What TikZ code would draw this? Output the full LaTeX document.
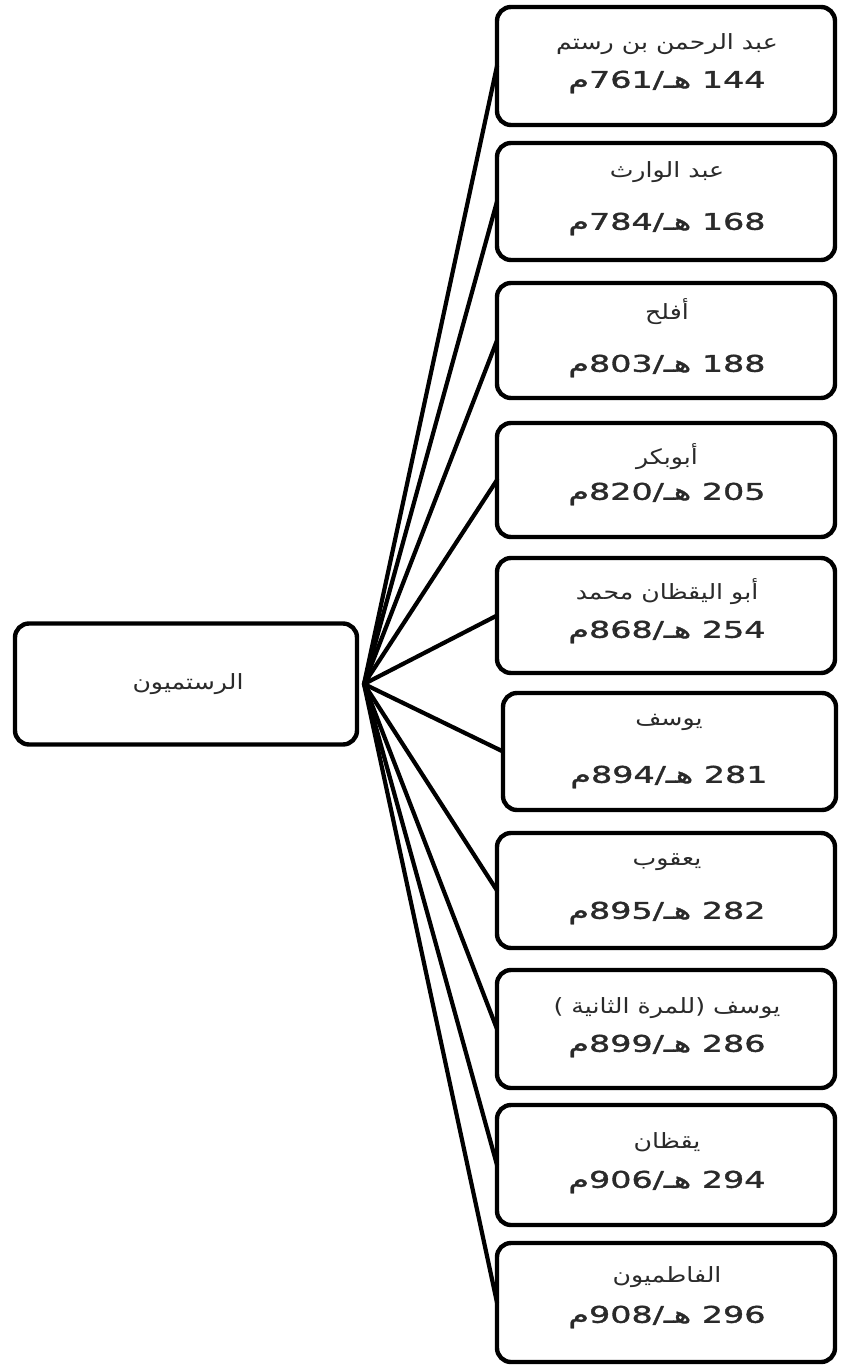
\documentclass[tikz,border=0pt]{standalone}
\usepackage{fontspec}
\setmainfont{DejaVu Sans}
\newfontfamily\arabicfont[Script=Arabic,FakeStretch=1.2]{DejaVu Sans}
\newfontfamily\numfont[Script=Arabic,FakeStretch=1.45,FakeBold=1.5]{DejaVu Sans}
\TeXXeTstate=1
\newcommand{\ar}[1]{{\arabicfont\beginR #1\endR}}
\newcommand{\dt}[2]{{\numfont\beginR\beginL#1\endL{} هـ/\beginL#2\endL{}م\endR}}
\definecolor{txtgray}{HTML}{2A2A2A}
\begin{document}
\begin{tikzpicture}[x=1pt,y=-1pt,
  box/.style={draw=black, line width=4.4pt, rounded corners=14pt, minimum width=338pt, inner sep=0pt, outer sep=0pt, anchor=north west},
  rootbox/.style={draw=black, line width=4.4pt, rounded corners=14pt, minimum width=342pt, minimum height=121pt, inner sep=0pt, outer sep=0pt},
  nm/.style={font=\fontsize{21}{23}\selectfont, text=txtgray, inner sep=0pt},
  num/.style={font=\fontsize{23}{25}\selectfont, text=txtgray, inner sep=0pt},
  conn/.style={draw=black, line width=4.2pt, line cap=round}]
\useasboundingbox (0,0) rectangle (840,1367);

\node[rootbox] (root) at (186,684) {};
\node[nm] (rootlbl) at (188,684) {\ar{الرستميون}};
\coordinate (hub) at (364,684);

% boxes
\node[box, minimum height=118pt] (b1) at (497,7) {};
\node[box, minimum height=117pt] (b2) at (497,143) {};
\node[box, minimum height=115pt] (b3) at (497,283) {};
\node[box, minimum height=114pt] (b4) at (497,423) {};
\node[box, minimum height=115pt] (b5) at (497,558) {};
\node[box, minimum height=117pt, minimum width=333pt] (b6) at (503,693) {};
\node[box, minimum height=115pt] (b7) at (497,833) {};
\node[box, minimum height=118pt] (b8) at (497,970) {};
\node[box, minimum height=120pt] (b9) at (497,1105) {};
\node[box, minimum height=119pt] (b10) at (497,1243) {};

\node[nm] (n1) at (667,44) {\ar{عبد الرحمن بن رستم}};
\node[num] (d1) at (667,82) {\dt{144}{761}};
\node[nm] (n2) at (667,172) {\ar{عبد الوارث}};
\node[num] (d2) at (667,224) {\dt{168}{784}};
\node[nm] (n3) at (667,312) {\ar{أفلح}};
\node[num] (d3) at (667,366) {\dt{188}{803}};
\node[nm] (n4) at (667,457) {\ar{أبوبكر}};
\node[num] (d4) at (667,494) {\dt{205}{820}};
\node[nm] (n5) at (667,592) {\ar{أبو اليقظان محمد}};
\node[num] (d5) at (667,632) {\dt{254}{868}};
\node[nm] (n6) at (669,722) {\ar{يوسف}};
\node[num] (d6) at (669,777) {\dt{281}{894}};
\node[nm] (n7) at (667,862) {\ar{يعقوب}};
\node[num] (d7) at (667,913) {\dt{282}{895}};
\node[nm] (n8) at (667,1008) {\ar{يوسف (للمرة الثانية )}};
\node[num] (d8) at (667,1046) {\dt{286}{899}};
\node[nm] (n9) at (667,1142) {\ar{يقظان}};
\node[num] (d9) at (667,1182) {\dt{294}{906}};
\node[nm] (n10) at (667,1277) {\ar{الفاطميون}};
\node[num] (d10) at (667,1317) {\dt{296}{908}};

\foreach \b in {b1,b2,b3,b4,b5,b6,b7,b8,b9,b10}
  \draw[conn] (hub) -- (\b.west);
\end{tikzpicture}
\end{document}
